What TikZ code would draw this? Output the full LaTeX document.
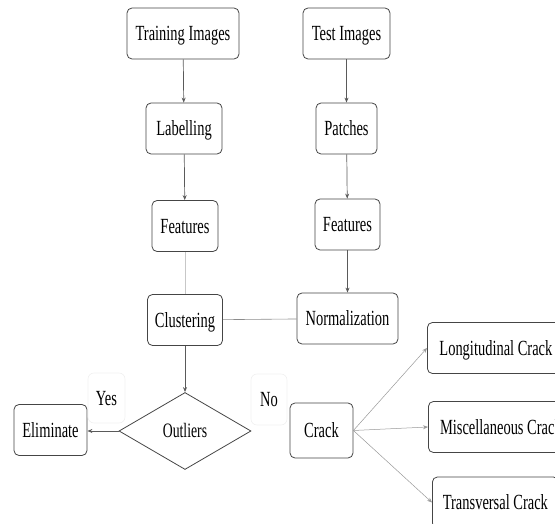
\documentclass[tikz,border=0pt]{standalone}
\usepackage{fontspec}
\setmainfont{Liberation Serif}[FakeStretch=0.67]
\usetikzlibrary{shapes.geometric,arrows.meta}

\definecolor{boxline}{HTML}{454545}
\definecolor{arrline}{HTML}{5A5A5A}

\tikzset{
  box/.style={draw=boxline, line width=0.8pt, rounded corners=5pt, fill=white,
    minimum height=51pt, inner sep=0pt, text height=14.3pt, text depth=0pt,
    font=\fontsize{21.6}{24}\selectfont},
  decision/.style={diamond, draw=boxline, line width=0.8pt, aspect=1.71,
    minimum width=132pt, minimum height=77pt, inner sep=0pt,
    text height=13.5pt, text depth=0pt, font=\fontsize{20.5}{22}\selectfont},
  answer/.style={draw=black!6, line width=0.6pt, rounded corners=6pt,
    inner sep=0pt, text height=14pt, text depth=0pt,
    font=\fontsize{21.6}{24}\selectfont},
  flow/.style={draw=arrline, line width=0.7pt, -{Stealth[length=5pt,width=4pt]}},
}

\begin{document}
\begin{tikzpicture}[x=1pt,y=-1pt]
    \useasboundingbox (0,0) rectangle (555,524);

    % left branch
    \node[box, minimum width=112pt] (train) at (183,33.5) {Training Images};
    \node[box, minimum width=76pt] (label) at (184,128.5) {Labelling};
    \node[box, minimum width=66pt] (featL) at (185,226) {Features};
    \node[box, minimum width=75pt] (clust) at (185,320) {Clustering};
    \node[decision] (outl) at (185,431) {Outliers};
    \node[box, minimum width=73pt] (elim) at (50.5,430) {Eliminate};

    % right branch
    \node[box, minimum width=87pt] (test) at (346.5,33.5) {Test Images};
    \node[box, minimum width=61pt] (patch) at (346.5,128.5) {Patches};
    \node[box, minimum width=65pt] (featR) at (347.5,224.5) {Features};
    \node[box, minimum width=101pt] (norm) at (347.5,318.5) {Normalization};

    % decision labels
    \node[answer, minimum width=37pt, minimum height=50pt] (yes) at (106.5,398) {Yes};
    \node[answer, minimum width=36pt, minimum height=51pt] (no) at (269,399.5) {No};

    % crack types
    \node[box, minimum width=63pt, minimum height=55pt] (crack) at (321.5,430.5) {Crack};
    \node[box, anchor=west, minimum width=137pt] (longi) at (427,348) {Longitudinal Crack};
    \node[box, anchor=west, minimum width=145pt] (misc) at (428,427) {Miscellaneous Crack};
    \node[box, anchor=west, minimum width=126pt] (trans) at (432,502.5) {Transversal Crack};

    \draw[flow] (train) -- (label);
    \draw[flow] (label) -- (featL);
    \draw[draw=black!22, line width=0.7pt] (featL) -- (clust);
    \draw[flow] (clust) -- (outl);
    \draw[flow] (outl.west) -- (outl.west -| elim.east);

    \draw[flow] (test) -- (patch);
    \draw[flow] (patch) -- (featR);
    \draw[flow] (featR) -- (norm);
    \draw[draw=black!45, line width=0.6pt] (clust) -- (norm);

    \draw[flow, draw=black!40, line width=0.5pt] (crack.east) -- (longi.west);
    \draw[flow, draw=black!40, line width=0.5pt] (crack.east) -- (misc.west);
    \draw[flow, draw=black!40, line width=0.5pt] (crack.east) -- (trans.west);
\end{tikzpicture}
\end{document}
